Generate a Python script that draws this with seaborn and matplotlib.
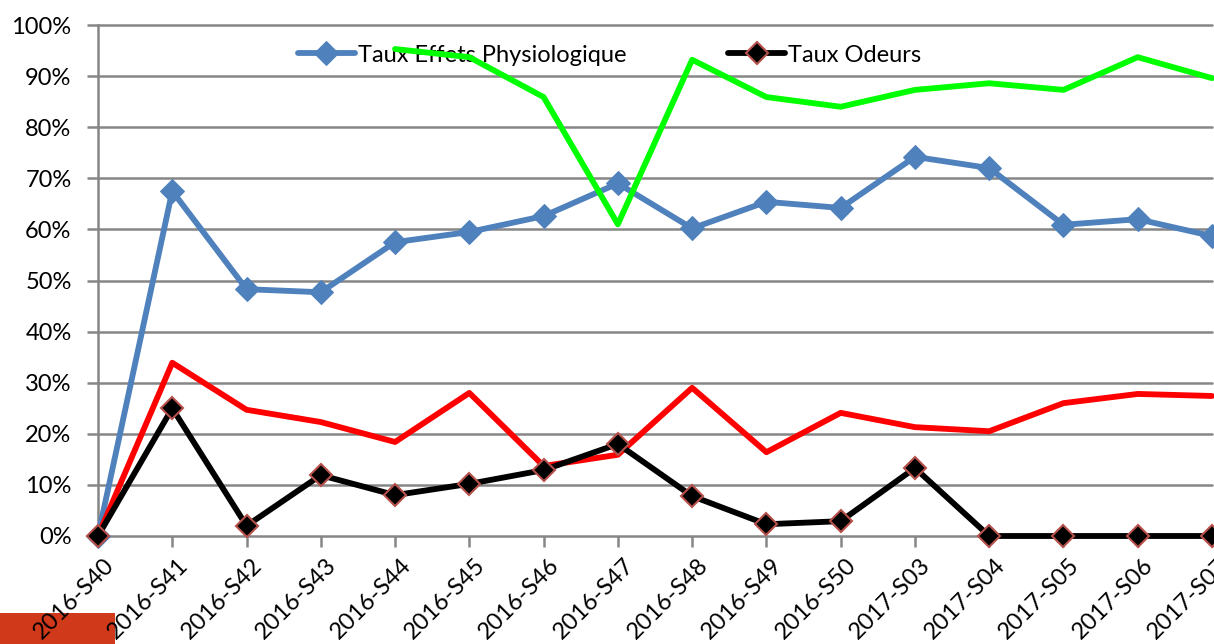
import numpy as np
import pandas as pd
import matplotlib
matplotlib.use("Agg")
import matplotlib.pyplot as plt
import seaborn as sns
from matplotlib.ticker import PercentFormatter
from matplotlib.patches import Rectangle
from matplotlib.transforms import ScaledTranslation

categories = ["2016-S40", "2016-S41", "2016-S42", "2016-S43", "2016-S44", "2016-S45",
              "2016-S46", "2016-S47", "2016-S48", "2016-S49", "2016-S50", "2017-S03",
              "2017-S04", "2017-S05", "2017-S06", "2017-S07"]
taux_effets = [0.0, 67.5, 48.3, 47.7, 57.5, 59.5, 62.6, 69.0, 60.2, 65.4, 64.2, 74.2, 72.0, 60.9, 62.0, 58.7]
taux_odeurs = [0.0, 25.0, 2.0, 11.9, 8.0, 10.2, 12.9, 18.0, 7.8, 2.3, 2.9, 13.3, 0.0, 0.0, 0.0, 0.0]
taux_rouge = [0.0, 33.9, 24.7, 22.3, 18.4, 28.0, 13.7, 15.9, 29.0, 16.4, 24.1, 21.3, 20.5, 26.0, 27.8, 27.4]
taux_vert = [np.nan, np.nan, np.nan, np.nan, 95.3, 93.7, 85.9, 61.0, 93.2, 85.9, 84.0, 87.3, 88.6, 87.3, 93.7, 89.6]

sns.set_theme(style="white")
plt.rcParams['font.family'] = ['Lato', 'DejaVu Sans']
plt.rcParams['text.color'] = 'black'
plt.rcParams['xtick.labelcolor'] = 'black'
plt.rcParams['ytick.labelcolor'] = 'black'

x = np.arange(len(categories))
df = pd.DataFrame({"x": x, "effets": taux_effets, "odeurs": taux_odeurs,
                   "rouge": taux_rouge, "vert": taux_vert})

fig = plt.figure(figsize=(12.14, 6.44), dpi=100)
ax = fig.add_axes([98/1214, 1-536/644, (1212-98)/1214, (536-25)/644])
ax.patch.set_alpha(0)

grid_c = "#868686"
for v in range(0, 101, 10):
    ax.axhline(v, color=grid_c, lw=1.8, zorder=1, clip_on=False)

sns.lineplot(data=df, x="x", y="effets", ax=ax, color="#4F81BD", lw=4.2, marker="D",
             markersize=12.5, markeredgecolor="#4F81BD", label="Taux Effets Physiologique",
             zorder=6, clip_on=False)
sns.lineplot(data=df, x="x", y="rouge", ax=ax, color="#FF0000", lw=4.2, zorder=7, label="_r",
             clip_on=False)
sns.lineplot(data=df, x="x", y="odeurs", ax=ax, color="#000000", lw=4.2, marker="D",
             markersize=11.5, markeredgecolor="#B5504A", markeredgewidth=1.5,
             label="Taux Odeurs", zorder=8, clip_on=False)
sns.lineplot(data=df.dropna(), x="x", y="vert", ax=ax, color="#00FF00", lw=4.2, zorder=9,
             label="_v", clip_on=False)

ax.set_xlim(0, 15)
ax.set_ylim(0, 100)
ax.set_xlabel("")
ax.set_ylabel("")
ax.set_xticks(x)
ax.set_xticklabels(categories, rotation=45, ha="right", rotation_mode="anchor", fontsize=17,
                   color="black")
ax.set_yticks(range(0, 101, 10))
ax.yaxis.set_major_formatter(PercentFormatter(decimals=0))
ax.tick_params(axis="y", labelsize=17, length=8, width=1.8, color=grid_c, left=True, pad=11,
               labelcolor="black")
ax.tick_params(axis="x", length=8, width=1.8, color=grid_c, bottom=True, pad=5,
               labelcolor="black")
offset = ScaledTranslation(5/100, 0, fig.dpi_scale_trans)
for t in ax.get_xticklabels():
    t.set_transform(t.get_transform() + offset)
for s in ["top", "right"]:
    ax.spines[s].set_visible(False)
ax.spines["bottom"].set_visible(False)
ax.spines["left"].set_color(grid_c)
ax.spines["left"].set_linewidth(1.8)

leg = ax.legend(loc="center left", bbox_to_anchor=((298-98)/1114, (536-55)/511), ncol=2,
                frameon=False, fontsize=17, handlelength=2.4, columnspacing=4.3,
                handletextpad=0.15, borderaxespad=0, borderpad=0, labelcolor="black")
leg.set_zorder(5)

fig.patches.append(Rectangle((0, 0), 115/1214, 31/644, transform=fig.transFigure,
                             facecolor="#D0391A", edgecolor="none", zorder=-5))

fig.savefig("out.png", dpi=100)
